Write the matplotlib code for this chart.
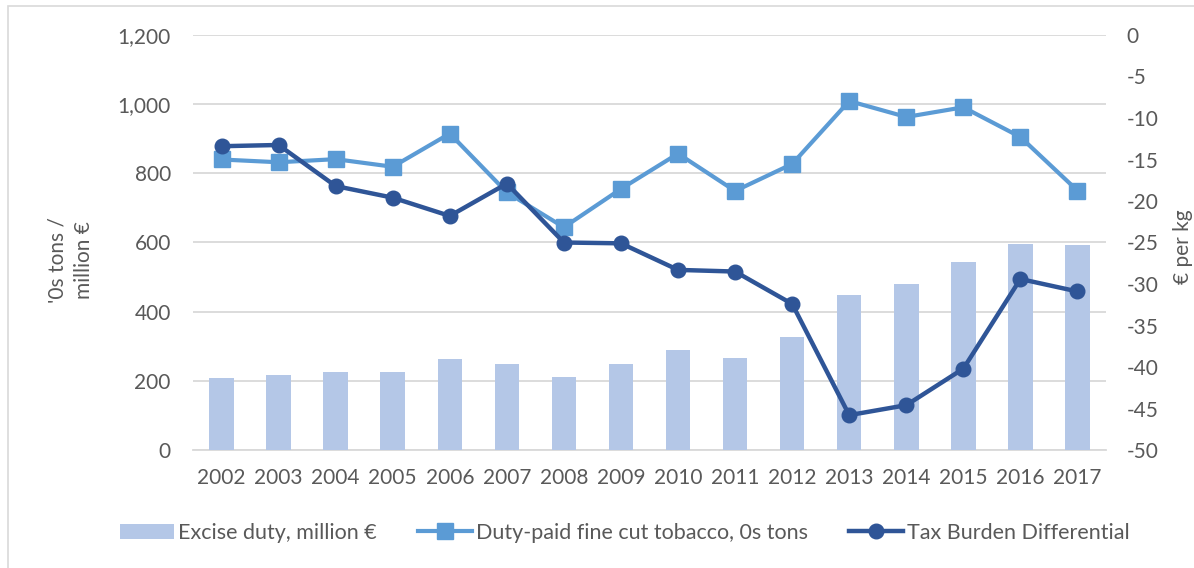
import matplotlib
matplotlib.use("Agg")
import matplotlib.pyplot as plt
from matplotlib.patches import Rectangle
from matplotlib.lines import Line2D
from matplotlib.patches import Patch

plt.rcParams['font.family'] = ['Lato', 'DejaVu Sans']

years = ['2002', '2003', '2004', '2005', '2006', '2007', '2008', '2009',
         '2010', '2011', '2012', '2013', '2014', '2015', '2016', '2017']
excise_duty = [209, 217, 226, 226, 263, 248, 212, 248,
               289, 267, 326, 448, 480, 545, 597, 592]
duty_paid = [840, 832, 841, 819, 915, 745, 644, 755,
             857, 749, 827, 1009, 963, 991, 905, 750]
tax_diff = [-13.4, -13.25, -18.2, -19.6, -21.8, -17.9, -25.0, -25.1,
            -28.3, -28.5, -32.4, -45.8, -44.6, -40.2, -29.4, -30.9]

left_ticks = [0, 200, 400, 600, 800, 1000, 1200]
right_ticks = [0, -5, -10, -15, -20, -25, -30, -35, -40, -45, -50]

c_bar = '#B4C7E7'
c_duty = '#5B9BD5'
c_tax = '#2F5597'
c_text = '#595959'
c_grid = '#D9D9D9'
fs = 15
fs_leg = 15.5

W, H = 1194, 568
fig = plt.figure(figsize=(W / 100, H / 100), dpi=100)

# outer chart border
fig.patches.append(Rectangle((8 / W, -0.05), 1.2, 1 - 6 / H + 0.05,
                             transform=fig.transFigure, fill=False,
                             edgecolor=c_grid, lw=1.2))

ax = fig.add_axes([193 / W, 1 - 450 / H, (1106 - 193) / W, (450 - 35) / H])
x = list(range(len(years)))

ax.bar(x, excise_duty, width=0.43, color=c_bar, zorder=2)
ax.plot(x, duty_paid, color=c_duty, lw=3.0, marker='s', markersize=11,
        zorder=3)
ax.set_xlim(-0.5, len(years) - 0.5)
ax.set_ylim(0, 1200)
ax.set_yticks(left_ticks)
ax.set_yticklabels([f'{v:,}' for v in left_ticks])
ax.set_xticks(x)
ax.set_xticklabels(years)
ax.yaxis.grid(True, color=c_grid, lw=1.3, zorder=0)
ax.set_axisbelow(True)
ax.axhline(0, color=c_grid, lw=1.3, zorder=1, clip_on=False)
for s in ax.spines.values():
    s.set_visible(False)
ax.tick_params(axis='both', length=0, labelsize=fs, labelcolor=c_text)
ax.tick_params(axis='y', pad=16)
ax.tick_params(axis='x', pad=13)

ax2 = ax.twinx()
ax2.plot(x, tax_diff, color=c_tax, lw=3.2, marker='o', markersize=10.5,
         zorder=4)
ax2.set_ylim(-50, 0)
ax2.set_yticks(right_ticks)
ax2.set_yticklabels([str(v) for v in right_ticks])
for s in ax2.spines.values():
    s.set_visible(False)
ax2.tick_params(axis='y', length=0, labelsize=fs, labelcolor=c_text, pad=15)

fig.text(71 / W, 1 - 260 / H, "'0s tons /\nmillion €", rotation=90,
         ha='center', va='center', fontsize=fs, color=c_text,
         multialignment='center', linespacing=1.4)
fig.text(1173 / W, 1 - 247 / H, '€ per kg', rotation=90, ha='left',
         va='center', fontsize=fs, color=c_text)

handles = [
    Patch(facecolor=c_bar, edgecolor='none'),
    Line2D([], [], color=c_duty, lw=3.0, marker='s', markersize=11),
    Line2D([], [], color=c_tax, lw=3.2, marker='o', markersize=10.5),
]
labels = ['Excise duty, million €', 'Duty-paid fine cut tobacco, 0s tons',
          'Tax Burden Differential']
leg = fig.legend(handles, labels, loc='center', ncol=3,
                 bbox_to_anchor=(625 / W, 1 - 533 / H), frameon=False,
                 fontsize=fs_leg, handlelength=2.5, handleheight=0.75,
                 handletextpad=0.2, columnspacing=1.9)
for t in leg.get_texts():
    t.set_color(c_text)

fig.savefig('out.png', dpi=100)
